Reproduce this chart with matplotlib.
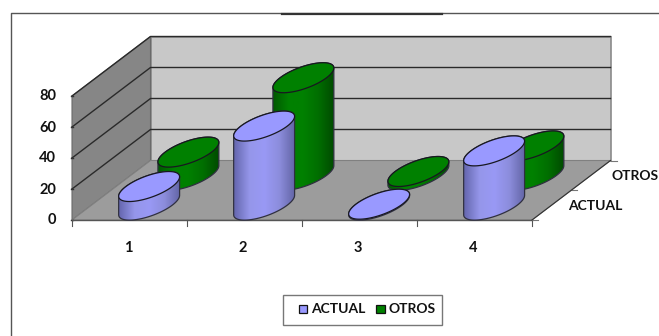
import matplotlib
matplotlib.use("Agg")
import matplotlib.pyplot as plt
import numpy as np
from matplotlib.patches import Polygon, Rectangle
from matplotlib.colors import LinearSegmentedColormap

plt.rcParams['font.family'] = ['Lato', 'DejaVu Sans']

categories = ["1", "2", "3", "4"]
series_names = ["ACTUAL", "OTROS"]
actual = [12, 51, 0.6, 35]
otros = [15, 63, 2.5, 19]
yticks = [0, 20, 40, 60, 80]

# oblique projection, pixels of the picture
X0, Y0 = 72, 220
CAT_W = 115
PX_PER_UNIT = 1.55
DEPTH_X, DEPTH_Y = 78.5, -59.5


def proj(cat, val, depth):
    # cat in categories, val in chart units, depth in series
    d = depth / len(series_names)
    return (X0 + cat * CAT_W + d * DEPTH_X,
            Y0 - val * PX_PER_UNIT + d * DEPTH_Y)


def cylinder(ax, cat, val, depth, top_col, cmap, z):
    bx, by = proj(cat + 0.5, 0, depth + 0.5)
    tx, ty = proj(cat + 0.5, val, depth + 0.5)
    a, b, c = 23.2, 19.75, 15.0
    t0 = np.arctan2(b, a)
    low = np.linspace(t0 + np.pi, t0 + 2 * np.pi, 50)
    up = np.linspace(t0, t0 + np.pi, 50)
    pts_low = np.c_[bx + a * np.cos(low) + b * np.sin(low), by - c * np.sin(low)]
    pts_up = np.c_[tx + a * np.cos(up) + b * np.sin(up), ty - c * np.sin(up)]
    body = Polygon(np.r_[pts_low, pts_up], closed=True, fc='none', ec='#303040',
                   lw=0.9, zorder=z + 0.2)
    ax.add_patch(body)
    w = np.hypot(a, b)
    grad = np.linspace(0, 1, 64).reshape(1, -1)
    im = ax.imshow(grad, extent=(bx - w, bx + w, by + 40, ty - 40), cmap=cmap,
                   aspect='auto', zorder=z)
    clip = Polygon(np.r_[pts_low, pts_up], closed=True, transform=ax.transData)
    im.set_clip_path(clip)
    t = np.linspace(0, 2 * np.pi, 100)
    top = np.c_[tx + a * np.cos(t) + b * np.sin(t), ty - c * np.sin(t)]
    ax.add_patch(Polygon(top, closed=True, fc=top_col, ec='#181820', lw=0.9,
                         zorder=z + 0.3))


fig = plt.figure(figsize=(6.59, 3.36), dpi=100)
ax = fig.add_axes([0, 0, 1, 1])
ax.set_xlim(0, 659)
ax.set_ylim(336, 0)
ax.axis('off')

# outer frame of the pasted chart
ax.plot([11, 11, 659], [336, 13, 13], color='#555555', lw=1.0)
ax.plot([282, 442], [14, 14], color='#333333', lw=1.6)

n = len(categories)
ymax = yticks[-1]
nd = len(series_names)

# walls and floor
ax.add_patch(Polygon([proj(0, 0, nd), proj(n, 0, nd), proj(n, ymax, nd), proj(0, ymax, nd)],
                     fc='#C8C8C8', ec='#8A8A8A', lw=1.2, zorder=1))
ax.add_patch(Polygon([proj(0, 0, 0), proj(0, 0, nd), proj(0, ymax, nd), proj(0, ymax, 0)],
                     fc='#868686', ec='#6A6A6A', lw=0.8, zorder=1))
ax.add_patch(Polygon([proj(0, 0, 0), proj(n, 0, 0), proj(n, 0, nd), proj(0, 0, nd)],
                     fc='#9C9C9C', ec='#808080', lw=0.8, zorder=1))

# gridlines and value labels
for v in yticks:
    pts = [proj(0, v, 0), proj(0, v, nd), proj(n, v, nd)]
    if 0 < v:
        ax.plot(*zip(*pts), color='#2A2A2A', lw=1.0, zorder=2)
    x, y = proj(0, v, 0)
    ax.plot([x - 1, x + 1], [y, y], color='#333333', lw=1.0, zorder=2)
    ax.text(x - 16, y + 0.5, str(v), ha='right', va='center', fontsize=10.5,
            fontweight='bold', color='#111111')

# category axis
ax.plot(*zip(proj(0, 0, 0), proj(n, 0, 0)), color='#555555', lw=1.0, zorder=3)
for i in range(n + 1):
    x, y = proj(i, 0, 0)
    ax.plot([x, x], [y, y + 6], color='#555555', lw=0.8, zorder=3)
for i, c in enumerate(categories):
    x, y = proj(i + 0.5, 0, 0)
    ax.text(x - 1.5, y + 28, c, ha='center', va='center', fontsize=10.5,
            fontweight='bold', color='#111111')

# series axis
for d in range(nd + 1):
    x, y = proj(n, 0, d)
    ax.plot([x, x + 6], [y, y], color='#777777', lw=0.8, zorder=3)
ax.plot(*zip(proj(n, 0, 0), proj(n, 0, nd)), color='#333333', lw=0.8, zorder=3)
for d, name in enumerate(series_names):
    x, y = proj(n, 0, d + 0.5)
    ax.text(x + 44, y + 1, name, ha='center', va='center', fontsize=10,
            fontweight='bold', color='#111111')

blue_map = LinearSegmentedColormap.from_list('b', ['#6668B0', '#9596EA', '#9999F5', '#8C8DDC', '#6466A8'])
green_map = LinearSegmentedColormap.from_list('g', ['#005A00', '#008000', '#008000', '#006E00', '#004C00'])

for i, v in enumerate(otros):
    cylinder(ax, i, v, 1, '#008000', green_map, 4 + i * 0.01)
for i, v in enumerate(actual):
    cylinder(ax, i, v, 0, '#9999FF', blue_map, 5 + i * 0.01)

# legend
ax.add_patch(Rectangle((283, 294.5), 159, 30, fc='white', ec='#777777', lw=1.0, zorder=6))
ax.add_patch(Rectangle((298.5, 304.5), 8.5, 8.5, fc='#9999FF', ec='#111111', lw=0.9, zorder=7))
ax.text(311, 309, series_names[0], va='center', fontsize=10, fontweight='bold',
        color='#111111', zorder=7)
ax.add_patch(Rectangle((376, 304.5), 8.5, 8.5, fc='#008000', ec='#111111', lw=0.9, zorder=7))
ax.text(388.5, 309, series_names[1], va='center', fontsize=10, fontweight='bold',
        color='#111111', zorder=7)

ax.set_xlim(0, 659)
ax.set_ylim(336, 0)
fig.savefig("out.png", dpi=100)
